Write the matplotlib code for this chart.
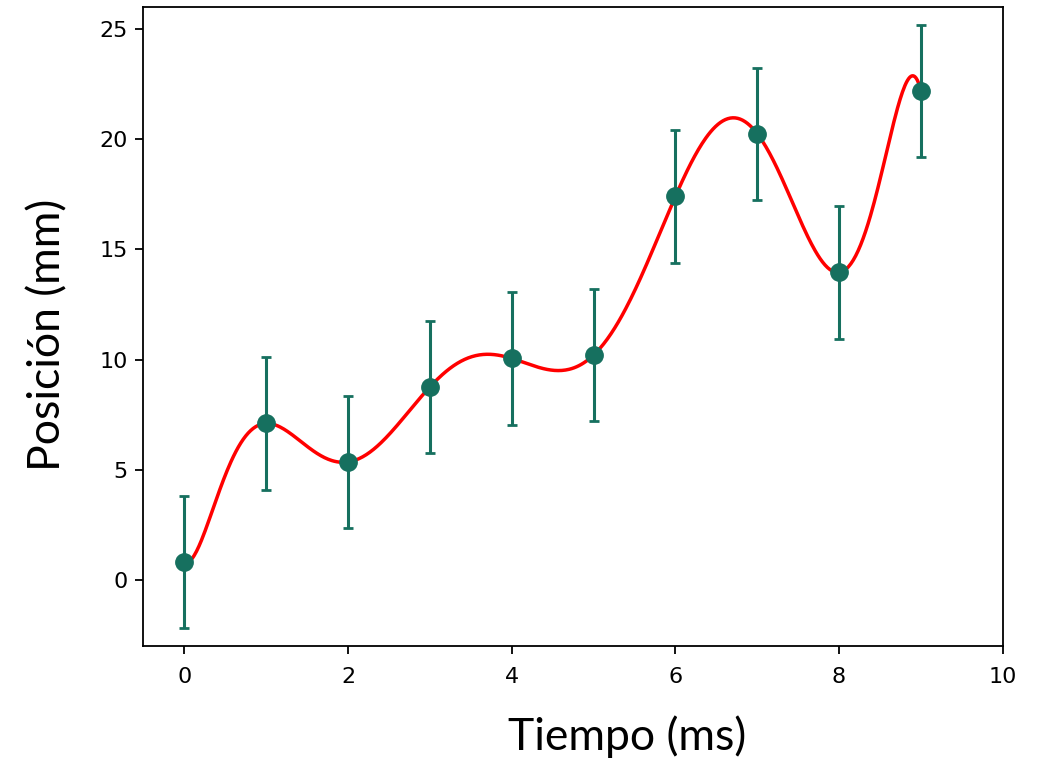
import numpy as np
import matplotlib
matplotlib.use("Agg")
import matplotlib.pyplot as plt

tiempo = [0, 1, 2, 3, 4, 5, 6, 7, 8, 9]
posicion = [0.8, 7.1, 5.35, 8.75, 10.05, 10.2, 17.4, 20.25, 13.95, 22.2]
error = [3, 3, 3, 3, 3, 3, 3, 3, 3, 3]
xticks = [0, 2, 4, 6, 8, 10]
yticks = [0, 5, 10, 15, 20, 25]

fig = plt.figure(figsize=(10.4, 7.64), dpi=100)
ax = fig.add_axes([0.1378, 0.1545, 0.8264, 0.8364])

# interpolating polynomial through all points (degree n-1)
coef = np.polyfit(tiempo, posicion, len(tiempo) - 1)
xs = np.linspace(tiempo[0], tiempo[-1], 600)
ys = np.polyval(coef, xs)

teal = "#16705f"
ax.errorbar(tiempo, posicion, yerr=error, fmt="none", ecolor=teal,
            elinewidth=2.2, capsize=3.6, capthick=2.0, zorder=2)
ax.plot(xs, ys, color="red", lw=2.5, zorder=3)
ax.plot(tiempo, posicion, "o", color=teal, ms=12.5, zorder=4)

ax.set_xlim(-0.5, 10)
ax.set_ylim(-3.0, 26.0)
ax.set_xticks(xticks)
ax.set_yticks(yticks)
ax.tick_params(labelsize=16, length=5.5, width=1.3)
ax.tick_params(axis="x", pad=9.5)
ax.tick_params(axis="y", pad=5.5)
for s in ax.spines.values():
    s.set_linewidth(1.3)

ax.set_xlabel("Tiempo (ms)", fontsize=32, family="Lato", va="baseline", ha="center")
ax.xaxis.set_label_coords(0.563, -0.1633)
ax.set_ylabel("Posición (mm)", fontsize=32, family="Lato", va="center", ha="center")
ax.yaxis.set_label_coords(-0.1115, 0.4865)

fig.savefig("out.png", dpi=100)
